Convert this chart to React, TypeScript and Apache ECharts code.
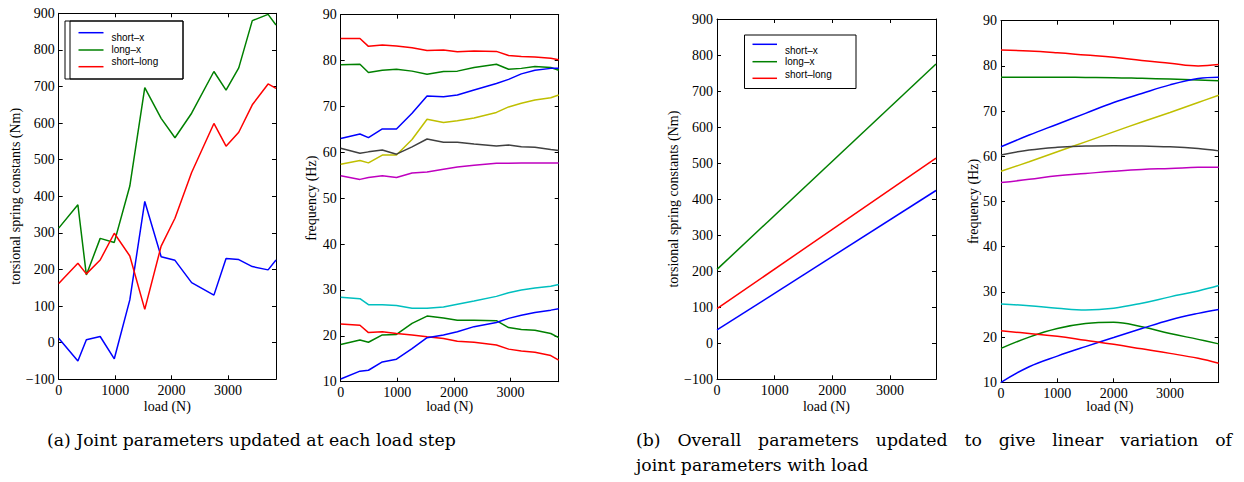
import React, { useEffect, useRef } from "react";
import * as echarts from "echarts";

// ---------- data ----------
// (a) joint parameters updated at each load step
const loadSteps = [0, 340, 490, 735, 985, 1260, 1525, 1815, 2060, 2355, 2750, 2965, 3190, 3430, 3710, 3850];
const aShortX = [12, -50, 8, 17, -44, 117, 386, 235, 225, 164, 130, 230, 227, 208, 199, 226];
const aLongX = [313, 377, 185, 285, 274, 428, 697, 613, 560, 627, 741, 690, 751, 880, 897, 868];
const aShortLong = [162, 217, 188, 226, 299, 237, 91, 264, 340, 465, 599, 537, 575, 650, 707, 695];

const fRedHi = [84.8, 84.8, 83.1, 83.4, 83.2, 82.8, 82.2, 82.3, 81.9, 82.1, 82.0, 81.1, 80.9, 80.8, 80.5, 80.2];
const fGreenHi = [79.1, 79.2, 77.4, 77.9, 78.1, 77.7, 77.0, 77.6, 77.7, 78.5, 79.2, 78.1, 78.3, 78.7, 78.5, 77.9];
const fBlueHi = [63.0, 64.0, 63.2, 65.1, 65.1, 68.5, 72.3, 72.1, 72.5, 73.6, 75.0, 75.9, 77.1, 77.9, 78.3, 78.3];
const fYellow = [57.4, 58.2, 57.7, 59.4, 59.4, 62.8, 67.2, 66.5, 66.9, 67.5, 68.7, 69.9, 70.7, 71.4, 71.9, 72.5];
const fGray = [60.9, 59.8, 60.1, 60.5, 59.6, 61.2, 62.9, 62.2, 62.2, 61.8, 61.4, 61.6, 61.2, 61.1, 60.6, 60.4];
const fMagenta = [54.9, 54.1, 54.5, 54.9, 54.5, 55.5, 55.7, 56.3, 56.8, 57.2, 57.6, 57.6, 57.7, 57.7, 57.7, 57.7];
const fCyan = [28.4, 28.1, 26.8, 26.8, 26.6, 26.0, 26.0, 26.3, 26.9, 27.6, 28.6, 29.4, 30.0, 30.4, 30.8, 31.2];
const fGreenLo = [18.1, 19.1, 18.6, 20.2, 20.3, 22.7, 24.3, 23.9, 23.4, 23.4, 23.3, 21.8, 21.4, 21.2, 20.5, 19.6];
const fRedLo = [22.6, 22.3, 20.7, 20.9, 20.5, 20.2, 19.8, 19.4, 18.8, 18.6, 18.0, 17.1, 16.7, 16.4, 15.7, 14.7];
const fBlueLo = [10.6, 12.3, 12.5, 14.3, 14.9, 17.2, 19.6, 20.2, 20.9, 22.0, 22.9, 23.8, 24.5, 25.1, 25.6, 25.9];

// (b) overall parameters updated, linear variation with load
const linLoads = [0, 3800];
const bShortX = [37, 424];
const bLongX = [205, 775];
const bShortLong = [96, 514];

const loadsB = [0, 500, 1000, 1500, 2000, 2500, 3000, 3500, 3865];
const gRedHi = [83.5, 83.3, 82.9, 82.4, 81.9, 81.2, 80.6, 80.0, 80.3];
const gGreenHi = [77.5, 77.5, 77.5, 77.45, 77.4, 77.25, 77.1, 76.9, 76.7];
const gBlueHi = [62.1, 64.7, 67.1, 69.5, 71.9, 73.9, 75.8, 77.2, 77.5];
const gYellow = [56.7, 58.8, 61.0, 63.2, 65.4, 67.6, 69.7, 71.9, 73.5];
const gGray = [60.3, 61.4, 62.0, 62.3, 62.35, 62.3, 62.1, 61.7, 61.2];
const gMagenta = [54.2, 54.9, 55.7, 56.2, 56.7, 57.1, 57.3, 57.55, 57.6];
const gCyan = [27.3, 26.95, 26.4, 26.0, 26.4, 27.5, 28.9, 30.2, 31.4];
const gGreenLo = [17.5, 20.0, 21.9, 23.0, 23.3, 22.3, 20.8, 19.5, 18.5];
const gBlueLo = [10.0, 13.45, 15.8, 17.9, 19.9, 21.9, 23.8, 25.25, 26.1];
const gRedLo = [21.4, 20.8, 20.2, 19.3, 18.4, 17.4, 16.4, 15.3, 14.2];

const legendNames = ["short–x", "long–x", "short–long"];
const captionA = "(a) Joint parameters updated at each load step";
const captionB1 = "(b) Overall parameters updated to give linear variation of";
const captionB2 = "joint parameters with load";

// ---------- styling ----------
const C = {
  blue: "#0000ff",
  green: "#008000",
  red: "#ff0000",
  cyan: "#00bfbf",
  magenta: "#bf00bf",
  yellow: "#bfbf00",
  gray: "#404040",
};
const SERIF = "Liberation Serif";
const SANS = "Liberation Sans";
const CAP_FAMILY = "DejaVu Serif";
const CAP_SIZE = 17.3;

const grids = [
  { left: 58.7, top: 13.3, width: 217.3, height: 366, xmax: 3850, ymin: -100, ymax: 900, yint: 100 },
  { left: 340.7, top: 14.7, width: 218, height: 367, xmax: 3850, ymin: 10, ymax: 90, yint: 10 },
  { left: 717, top: 19, width: 219, height: 360.3, xmax: 3800, ymin: -100, ymax: 900, yint: 100 },
  { left: 1001, top: 20.7, width: 217.7, height: 361.6, xmax: 3865, ymin: 10, ymax: 90, yint: 10 },
];

const fmt = (v: number) => (v < 0 ? "\u2212" + Math.abs(v) : String(v));

function buildAxes() {
  const xAxis: any[] = [];
  const yAxis: any[] = [];
  const line = { show: true, onZero: false, lineStyle: { color: "#000", width: 1 } };
  const tick = { show: true, inside: true, length: 4, lineStyle: { color: "#000", width: 1 } };
  grids.forEach((g, i) => {
    const xBase = { type: "value", gridIndex: i, min: 0, max: g.xmax, interval: 1000, axisLine: line, axisTick: tick, splitLine: { show: false } };
    xAxis.push({
      ...xBase,
      position: "bottom",
      axisLabel: { show: true, formatter: fmt, showMaxLabel: false, fontFamily: SERIF, fontSize: 14, color: "#000", margin: 4 },
    });
    xAxis.push({ ...xBase, position: "top", axisLabel: { show: false } });
    const yBase = { type: "value", gridIndex: i, min: g.ymin, max: g.ymax, interval: g.yint, axisLine: line, axisTick: tick, splitLine: { show: false } };
    yAxis.push({
      ...yBase,
      position: "left",
      axisLabel: { show: true, formatter: fmt, fontFamily: SERIF, fontSize: 14, color: "#000", margin: 4 },
    });
    yAxis.push({ ...yBase, position: "right", axisLabel: { show: false } });
  });
  return { xAxis, yAxis };
}

function mk(xs: number[], ys: number[], color: string, panel: number, smooth: boolean | number = false) {
  return {
    type: "line",
    xAxisIndex: panel * 2,
    yAxisIndex: panel * 2,
    data: xs.map((x, k) => [x, ys[k]]),
    showSymbol: false,
    symbol: "none",
    smooth,
    lineStyle: { color, width: 1.5 },
    itemStyle: { color },
    silent: true,
  };
}

function measure(text: string, family: string, size: number) {
  const c = document.createElement("canvas").getContext("2d")!;
  c.font = `${size}px "${family}"`;
  return c.measureText(text).width;
}

function txt(x: number, y: number, text: string, family: string, size: number, align = "left", extra: any = {}) {
  return {
    type: "text",
    x,
    y,
    ...extra,
    style: { text, fill: "#000", fontFamily: family, fontSize: size, align, verticalAlign: "middle" },
  };
}

function justified(text: string, x0: number, x1: number, y: number) {
  const words = text.split(" ");
  const ws = words.map((w) => measure(w, CAP_FAMILY, CAP_SIZE));
  const total = ws.reduce((a, b) => a + b, 0);
  const gap = Math.max(3, Math.min(22, (x1 - x0 - total) / (words.length - 1)));
  const out: any[] = [];
  let x = x0;
  words.forEach((w, k) => {
    out.push(txt(x, y, w, CAP_FAMILY, CAP_SIZE));
    x += ws[k] + gap;
  });
  return out;
}

function legend(box: { x: number; y: number; w: number; h: number }, lx0: number, lx1: number, lineYs: number[], tx: number, textYs: number[], double: boolean) {
  const els: any[] = [];
  els.push({ type: "rect", shape: { x: box.x, y: box.y, width: box.w, height: box.h }, style: { fill: "#fff", stroke: "#000", lineWidth: 1 }, z: 100 });
  if (double) {
    els.push({ type: "rect", shape: { x: box.x + 5, y: box.y, width: box.w - 5, height: box.h }, style: { fill: "none", stroke: "#000", lineWidth: 1 }, z: 101 });
  }
  const cols = [C.blue, C.green, C.red];
  legendNames.forEach((n, k) => {
    els.push({ type: "line", shape: { x1: lx0, y1: lineYs[k], x2: lx1, y2: lineYs[k] }, style: { stroke: cols[k], lineWidth: 1.5 }, z: 102 });
    els.push(txt(tx, textYs[k], n, SANS, 10, "left", { z: 102 }));
  });
  return els;
}

function axisTitles() {
  const els: any[] = [];
  const yl = [
    { x: 15, text: "torsional spring constants (Nm)" },
    { x: 311.5, text: "frequency (Hz)" },
    { x: 673.5, text: "torsional spring constants (Nm)" },
    { x: 973.5, text: "frequency (Hz)" },
  ];
  grids.forEach((g, i) => {
    els.push(txt(g.left + g.width / 2, 406, "load (N)", SERIF, 14, "center"));
    els.push(txt(yl[i].x, g.top + g.height / 2, yl[i].text, SERIF, 14, "center", { rotation: Math.PI / 2 }));
  });
  return els;
}

export default function App() {
  const ref = useRef<HTMLDivElement>(null);
  useEffect(() => {
    document.body.style.margin = "0";
    if (!ref.current) return;
    const chart = echarts.init(ref.current, undefined, { renderer: "svg" });
    const { xAxis, yAxis } = buildAxes();
    const series = [
      mk(loadSteps, aShortX, C.blue, 0),
      mk(loadSteps, aLongX, C.green, 0),
      mk(loadSteps, aShortLong, C.red, 0),

      mk(loadSteps, fRedHi, C.red, 1),
      mk(loadSteps, fGreenHi, C.green, 1),
      mk(loadSteps, fBlueHi, C.blue, 1),
      mk(loadSteps, fYellow, C.yellow, 1),
      mk(loadSteps, fGray, C.gray, 1),
      mk(loadSteps, fMagenta, C.magenta, 1),
      mk(loadSteps, fCyan, C.cyan, 1),
      mk(loadSteps, fGreenLo, C.green, 1),
      mk(loadSteps, fRedLo, C.red, 1),
      mk(loadSteps, fBlueLo, C.blue, 1),

      mk(linLoads, bShortX, C.blue, 2),
      mk(linLoads, bLongX, C.green, 2),
      mk(linLoads, bShortLong, C.red, 2),

      mk(loadsB, gRedHi, C.red, 3, 0.4),
      mk(loadsB, gGreenHi, C.green, 3, 0.4),
      mk(loadsB, gBlueHi, C.blue, 3, 0.4),
      mk(loadsB, gYellow, C.yellow, 3, 0.4),
      mk(loadsB, gGray, C.gray, 3, 0.4),
      mk(loadsB, gMagenta, C.magenta, 3, 0.4),
      mk(loadsB, gCyan, C.cyan, 3, 0.4),
      mk(loadsB, gGreenLo, C.green, 3, 0.4),
      mk(loadsB, gBlueLo, C.blue, 3, 0.4),
      mk(loadsB, gRedLo, C.red, 3, 0.4),
    ];
    const graphic = [
      ...legend({ x: 65, y: 21, w: 118, h: 58 }, 78.5, 103.5, [32.7, 50, 66.7], 111.5, [37, 49.5, 61.5], true),
      ...legend({ x: 744.5, y: 35, w: 111.5, h: 53.5 }, 752.5, 777, [44.3, 61.7, 78.3], 785, [50, 61.7, 74], false),
      ...axisTitles(),
      txt(47, 440, captionA, CAP_FAMILY, CAP_SIZE),
      ...justified(captionB1, 636, 1232, 440),
      txt(636, 465, captionB2, CAP_FAMILY, CAP_SIZE),
    ];
    chart.setOption({
      animation: false,
      backgroundColor: "#fff",
      grid: grids.map((g) => ({ left: g.left, top: g.top, width: g.width, height: g.height, containLabel: false })),
      xAxis,
      yAxis,
      series,
      graphic,
    });
    return () => chart.dispose();
  }, []);
  return <div ref={ref} style={{ width: 1244, height: 482 }} />;
}
